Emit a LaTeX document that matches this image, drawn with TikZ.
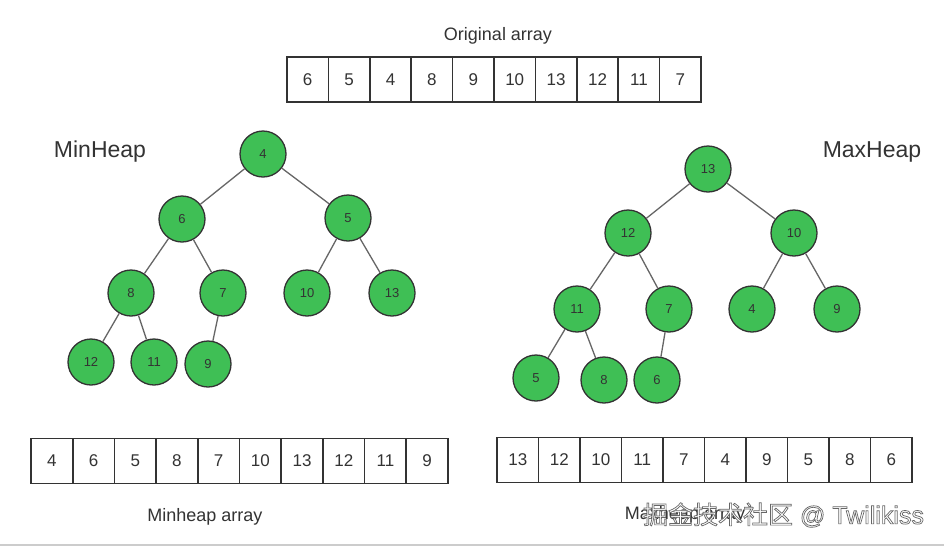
\documentclass[tikz,border=0pt]{standalone}
\usepackage{fontspec}
\setmainfont{Liberation Sans}
\newfontfamily\cjk{Noto Sans CJK SC}
\definecolor{heapgreen}{HTML}{3FBF55}
\definecolor{inkgray}{HTML}{333333}
\newcommand{\outlinedtext}[1]{\special{pdf:literal direct 2 Tr 0.7 w 0.4 G}#1\special{pdf:literal direct 0 Tr}}
\begin{document}
\begin{tikzpicture}[x=1pt,y=-1pt,
  heapnode/.style={circle,fill=heapgreen,draw=inkgray,line width=1.3pt,minimum size=46pt,inner sep=0pt,font=\fontsize{13}{13}\selectfont,text=black!80},
  cell/.style={draw=inkgray,line width=1.5pt,minimum width=41.5pt,minimum height=45pt,inner sep=0pt,font=\fontsize{17}{17}\selectfont,text=inkgray},
  link/.style={draw=black!60,line width=1.3pt},
  caption/.style={font=\fontsize{18}{18}\selectfont,text=inkgray},
  title/.style={font=\fontsize{23}{23}\selectfont,text=inkgray}
]
\useasboundingbox (0,0) rectangle (944,547);
\fill[white] (0,0) rectangle (944,547);
\draw[black!20,line width=1.5pt] (0,545) -- (944,545);

% Original array
\node[caption] (origlbl) at (498,36) {Original array};
\foreach [count=\i] \v in {6,5,4,8,9,10,13,12,11,7}
  \node[cell] (oa\i) at ({287+41.4*(\i-0.5)},79.5) {\v};

% Titles
\node[title] (minlbl) at (100,152) {MinHeap};
\node[title] (maxlbl) at (872,152) {MaxHeap};

% MinHeap tree
\node[heapnode] (m4) at (263,154) {4};
\node[heapnode] (m6) at (182,219) {6};
\node[heapnode] (m5) at (348,218) {5};
\node[heapnode] (m8) at (131,293) {8};
\node[heapnode] (m7) at (223,293) {7};
\node[heapnode] (m10) at (307,293) {10};
\node[heapnode] (m13) at (392,293) {13};
\node[heapnode] (m12) at (91,362) {12};
\node[heapnode] (m11) at (154,362) {11};
\node[heapnode] (m9) at (208,364) {9};
\draw[link] (m4) -- (m6);
\draw[link] (m4) -- (m5);
\draw[link] (m6) -- (m8);
\draw[link] (m6) -- (m7);
\draw[link] (m5) -- (m10);
\draw[link] (m5) -- (m13);
\draw[link] (m8) -- (m12);
\draw[link] (m8) -- (m11);
\draw[link] (m7) -- (m9);

% MaxHeap tree
\node[heapnode] (x13) at (708,169) {13};
\node[heapnode] (x12) at (628,233) {12};
\node[heapnode] (x10) at (794,233) {10};
\node[heapnode] (x11) at (577,309) {11};
\node[heapnode] (x7) at (669,309) {7};
\node[heapnode] (x4) at (752,309) {4};
\node[heapnode] (x9) at (837,309) {9};
\node[heapnode] (x5) at (536,378) {5};
\node[heapnode] (x8) at (604,380) {8};
\node[heapnode] (x6) at (657,380) {6};
\draw[link] (x13) -- (x12);
\draw[link] (x13) -- (x10);
\draw[link] (x12) -- (x11);
\draw[link] (x12) -- (x7);
\draw[link] (x10) -- (x4);
\draw[link] (x10) -- (x9);
\draw[link] (x11) -- (x5);
\draw[link] (x11) -- (x8);
\draw[link] (x7) -- (x6);

% Minheap array
\foreach [count=\i] \v in {4,6,5,8,7,10,13,12,11,9}
  \node[cell] (na\i) at ({31+41.7*(\i-0.5)},461) {\v};
\node[caption] (minarr) at (205,517) {Minheap array};

% Maxheap array
\foreach [count=\i] \v in {13,12,10,11,7,4,9,5,8,6}
  \node[cell] (xa\i) at ({497+41.5*(\i-0.5)},460) {\v};
\node[caption] (maxarr) at (685,515) {Maxheap array};

% watermark
\node[font=\fontsize{25}{25}\selectfont,text=white] (wm) at (783.5,515) {\outlinedtext{{\cjk 掘金技术社区} @ Twilikiss}};
\end{tikzpicture}
\end{document}
